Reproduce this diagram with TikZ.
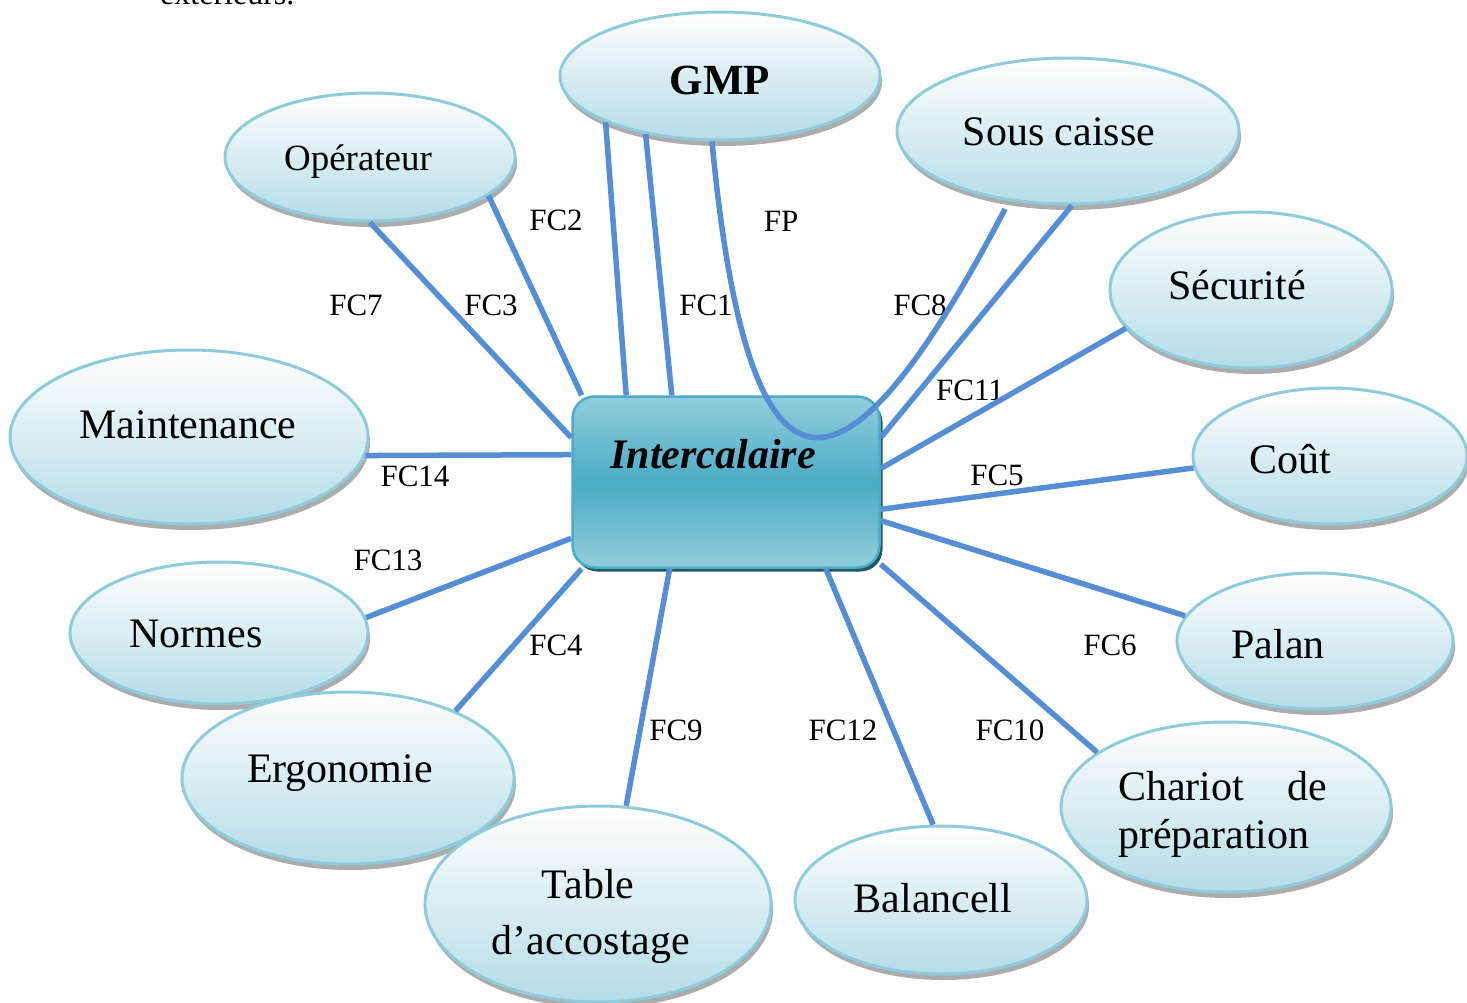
\documentclass[tikz,border=0pt]{standalone}
\usepackage{fontspec}
\setmainfont{Liberation Serif}
\usetikzlibrary{shapes.geometric,shadows}
\definecolor{linkblue}{HTML}{558ED5}
\definecolor{rimteal}{HTML}{8FCCDB}
\definecolor{palecyan}{HTML}{B4DCE7}
\definecolor{boxtop}{HTML}{92CDDC}
\definecolor{boxmid}{HTML}{4BACC6}
\definecolor{boxshade}{HTML}{205867}
\tikzset{
  bubble/.style={ellipse, draw=rimteal, line width=3pt, top color=white,
    bottom color=palecyan, inner sep=0pt,
    drop shadow={shadow xshift=2pt, shadow yshift=-6pt, fill=gray!65, opacity=1}},
  bubtext/.style={font=\fontsize{42}{50}\selectfont, inner sep=0pt, anchor=base},
  fclabel/.style={font=\fontsize{31}{36}\selectfont, inner sep=0pt, anchor=base},
  link/.style={draw=linkblue, line width=5.5pt},
}
\begin{document}
\begin{tikzpicture}[x=1pt,y=-1pt]
\useasboundingbox[fill=white] (0,0) rectangle (1467,1003);
\node[font=\fontsize{32}{38}\selectfont, inner sep=0pt, anchor=base west] (ext) at (160,5) {extérieurs.};
% central block
\node[rounded corners=22pt, draw=boxmid, line width=2.5pt, minimum width=307pt,
  minimum height=171pt, top color=boxtop, bottom color=boxtop, middle color=boxmid,
  drop shadow={shadow xshift=3pt, shadow yshift=-4pt, fill=boxshade, opacity=1}] (inter) at (726,482) {};
\node[bubtext, font=\fontsize{42}{50}\selectfont\bfseries\itshape] (intert) at (713,468) {Intercalaire};
% outer elements
\node[bubble, minimum width=320pt, minimum height=128pt] (gmp) at (720,76) {};
\node[bubble, minimum width=290pt, minimum height=128pt] (opr) at (370,157) {};
\node[bubble, minimum width=342pt, minimum height=146pt] (sous) at (1068,131) {};
\node[bubble, minimum width=282pt, minimum height=156pt] (secu) at (1251,290) {};
\node[bubble, minimum width=358pt, minimum height=174pt] (maint) at (189,437) {};
\node[bubble, minimum width=274pt, minimum height=136pt] (cout) at (1330,456) {};
\node[bubble, minimum width=298pt, minimum height=142pt] (normes) at (219,633) {};
\node[bubble, minimum width=276pt, minimum height=136pt] (palan) at (1315,641) {};
\node[bubble, minimum width=332pt, minimum height=172pt] (ergo) at (348,778) {};
\node[bubble, minimum width=330pt, minimum height=170pt] (chariot) at (1226,807) {};
\node[bubble, minimum width=346pt, minimum height=196pt] (table) at (598,904) {};
\node[bubble, minimum width=292pt, minimum height=148pt] (balan) at (941,900) {};
% texts
\node[bubtext, font=\fontsize{43}{50}\selectfont\bfseries] (gmpt) at (720,95) {GMP};
\node[bubtext, font=\fontsize{37}{44}\selectfont] (oprt) at (358,171) {Opérateur};
\node[bubtext] (soust) at (1059,146) {Sous caisse};
\node[bubtext] (secut) at (1237,299) {Sécurité};
\node[bubtext] (maintt) at (188,438) {Maintenance};
\node[bubtext] (coutt) at (1290,473) {Coût};
\node[bubtext] (normest) at (196,647) {Normes};
\node[bubtext] (palant) at (1278,658) {Palan};
\node[bubtext] (ergot) at (340,782) {Ergonomie};
\node[bubtext, anchor=base west] (chart1) at (1118,800) {\makebox[209pt][s]{Chariot de}};
\node[bubtext, anchor=base west] (chart2) at (1118,848) {préparation};
\node[bubtext] (tablet1) at (588,898) {Table};
\node[bubtext] (tablet2) at (591,954) {d’accostage};
\node[bubtext] (balant) at (933,912) {Balancell};
% function labels
\node[fclabel] (fc2) at (556,231) {FC2};
\node[fclabel] (fc7) at (356,315) {FC7};
\node[fclabel] (fc3) at (491,315) {FC3};
\node[fclabel] (fc1) at (706,315) {FC1};
\node[fclabel] (fp) at (781,232) {FP};
\node[fclabel] (fc8) at (920,315) {FC8};
\node[fclabel] (fc11) at (970,400) {FC11};
\node[fclabel] (fc14) at (415,486) {FC14};
\node[fclabel] (fc5) at (997,485) {FC5};
\node[fclabel] (fc13) at (388,570) {FC13};
\node[fclabel] (fc4) at (556,655) {FC4};
\node[fclabel] (fc6) at (1110,655) {FC6};
\node[fclabel] (fc9) at (676,740) {FC9};
\node[fclabel] (fc12) at (843,740) {FC12};
\node[fclabel] (fc10) at (1010,740) {FC10};
% connectors
\draw[link] (opr.270) -- (inter.164);
\draw[link] (opr.342) -- (inter.149);
\draw[link] (gmp.202) -- (inter.139);
\draw[link] (gmp.218) -- (inter.122);
\draw[link, shorten >=9pt] (gmp.263) .. controls (750,545) and (850,505) .. (sous.230);
\draw[link] (sous.273) -- (inter.16);
\draw[link] (secu.197) -- (inter.5);
\draw[link] (cout.185) -- (inter.350);
\draw[link] (palan.169) -- (inter.346);
\draw[link] (chariot.157) -- (inter.332);
\draw[link] (balan.96) -- (inter.319);
\draw[link] (table.74) -- (inter.237);
\draw[link] (ergo.32) -- (inter.211);
\draw[link] (normes.6) -- (inter.200);
\draw[link] (maint.354) -- (inter.170);
\end{tikzpicture}
\end{document}
